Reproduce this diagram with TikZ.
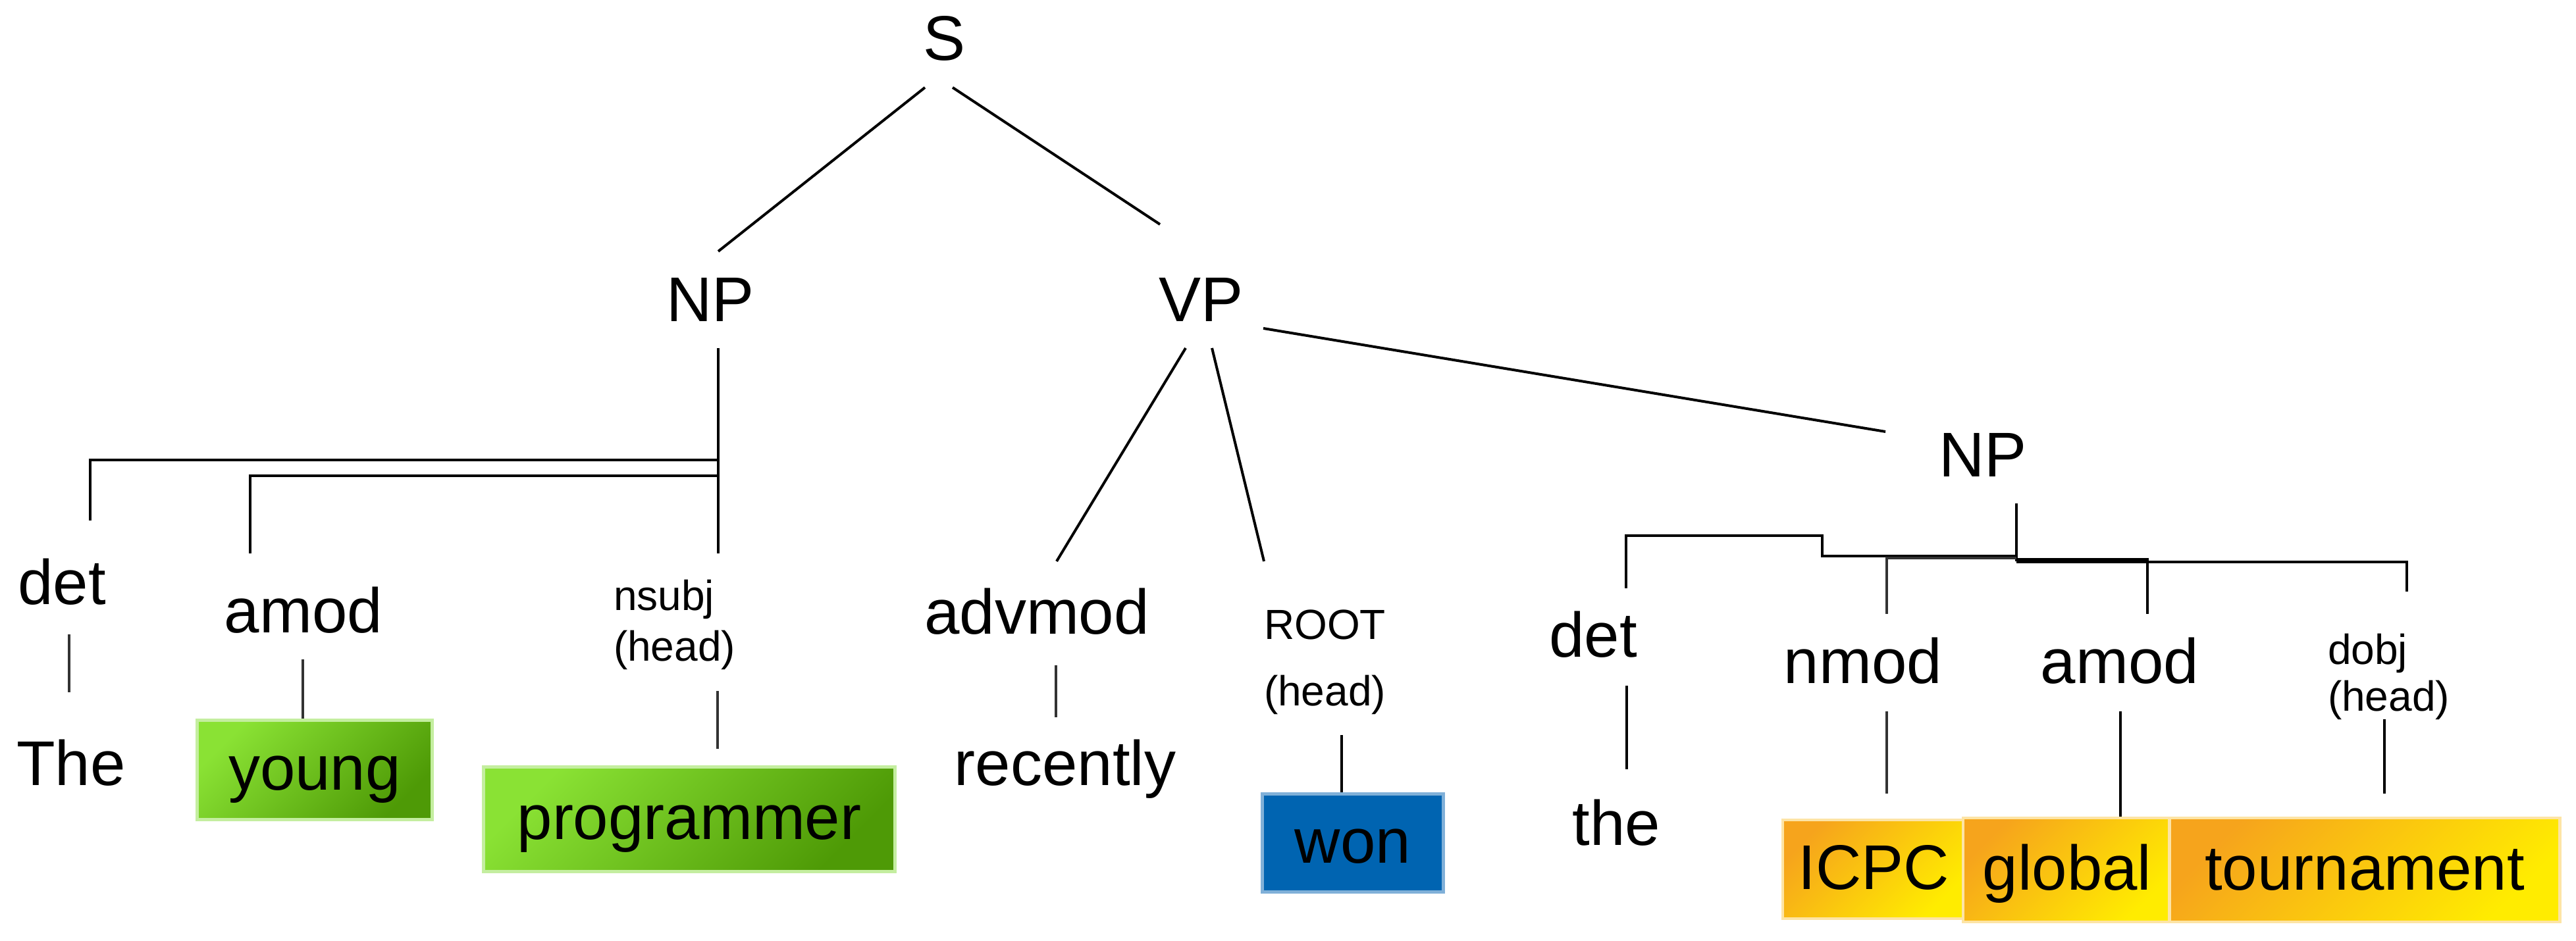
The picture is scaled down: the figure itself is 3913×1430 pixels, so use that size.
\documentclass[tikz,border=0pt]{standalone}
\usepackage{fontspec}
\setmainfont{Liberation Sans}
\usetikzlibrary{calc}
\definecolor{gLight}{RGB}{138,226,52}
\definecolor{gDark}{RGB}{78,154,6}
\definecolor{gEdge}{RGB}{196,238,160}
\definecolor{bFill}{RGB}{0,100,177}
\definecolor{bEdge}{RGB}{128,176,216}
\definecolor{oLight}{RGB}{246,164,28}
\definecolor{oDark}{RGB}{255,236,0}
\definecolor{oEdge}{RGB}{253,228,165}
\begin{document}
\begin{tikzpicture}[x=0.1pt,y=-0.1pt,
  lbl/.style={font=\fontsize{9.6}{11}\selectfont, inner sep=0pt, anchor=base},
  sml/.style={font=\fontsize{6.4}{7.7}\selectfont, inner sep=0pt, anchor=base west},
  conn/.style={line width=0.4pt, black},
  leafl/.style={line width=0.35pt, black!80},
  wbox/.style={font=\fontsize{9.6}{11}\selectfont, inner sep=0pt, text height=7.2pt, text depth=1pt, line width=0.45pt},
  greenbox/.style={wbox, draw=gEdge, top color=gLight, bottom color=gDark, shading angle=45},
  bluebox/.style={wbox, draw=bEdge, fill=bFill},
  orangebox/.style={wbox, draw=oEdge, top color=oLight, bottom color=oDark, shading angle=45}
]
\useasboundingbox (0,0) rectangle (3913,1430);

% phrase labels
\node[lbl] (S) at (1434,92) {S};
\node[lbl] (NPa) at (1079,489) {NP};
\node[lbl] (VP) at (1824,489) {VP};
\node[lbl] (NPb) at (3012,725) {NP};

% dependency labels
\node[lbl] (deta) at (94,919) {det};
\node[lbl] (amoda) at (461,962) {amod};
\node[sml] (nsubj) at (930,928) {\vtop{\baselineskip=7.7pt\hbox{nsubj}\hbox{(head)}}};
\node[lbl] (advmod) at (1575,964) {advmod};
\node[sml] (ROOT) at (1918,972) {\vtop{\baselineskip=10.1pt\hbox{ROOT}\hbox{(head)}}};
\node[lbl] (detb) at (2420,999) {det};
\node[lbl] (nmod) at (2830,1039) {nmod};
\node[lbl] (amodb) at (3220,1039) {amod};
\node[sml] (dobj) at (3534,1010) {\vtop{\baselineskip=7.1pt\hbox{dobj}\hbox{(head)}}};

% words
\node[lbl] (The) at (108,1194) {The};
\node[greenbox, minimum width=35.7pt, minimum height=15.1pt] (young) at (478,1170) {young};
\node[greenbox, minimum width=62.5pt, minimum height=15.9pt] (programmer) at (1047,1245) {programmer};
\node[lbl] (recently) at (1618,1194) {recently};
\node[bluebox, minimum width=27.5pt, minimum height=14.9pt] (won) at (2055,1281) {won};
\node[lbl] (the) at (2455,1285) {the};
\node[orangebox, minimum width=27.6pt, minimum height=15.0pt] (ICPC) at (2846,1321) {ICPC};
\node[orangebox, minimum width=31.6pt, minimum height=15.8pt] (global) at (3140,1322) {global};
\node[orangebox, minimum width=59.3pt, minimum height=15.8pt] (tournament) at (3592,1322) {tournament};

% S
\draw[conn] ([shift={(-29,41)}]S.base) -- ([shift={(12,-107)}]NPa.base);
\draw[conn] ([shift={(13,41)}]S.base) -- ([shift={(-62,-148)}]VP.base);

% first NP
\draw[conn] ([shift={(12,40)}]NPa.base) -- ([shift={(161,-87)}]nsubj.base west);
\draw[conn] ([shift={(12,210)}]NPa.base) -| ([shift={(43,-128)}]deta.base);
\draw[conn] ([shift={(12,234)}]NPa.base) -| ([shift={(-81,-121)}]amoda.base);
\draw[leafl] ([shift={(11,45)}]deta.base) -- ([shift={(-3,-142)}]The.base);
\draw[leafl] ([shift={(-1,40)}]amoda.base) coordinate (ay) -- (ay |- young.north);
\draw[leafl] ([shift={(160,122)}]nsubj.base west) -- ([shift={(43,-25)}]programmer.north);

% VP
\draw[conn] ([shift={(95,10)}]VP.base) -- ([shift={(-148,-69)}]NPb.base);
\draw[conn] ([shift={(-23,40)}]VP.base) -- ([shift={(30,-111)}]advmod.base);
\draw[conn] ([shift={(17,40)}]VP.base) -- ([shift={(2,-119)}]ROOT.base west);
\draw[leafl] ([shift={(29,47)}]advmod.base) -- ([shift={(-14,-104)}]recently.base);
\draw[conn] ([shift={(120,145)}]ROOT.base west) coordinate (rw) -- (rw |- won.north);

% second NP
\draw[conn] ([shift={(51,40)}]NPb.base) -- ([shift={(51,128)}]NPb.base);
\draw[conn] ([shift={(51,120)}]NPb.base) -- ++(-295,0) -- ++(0,-31) -| ([shift={(50,-105)}]detb.base);
\draw[leafl] ([shift={(51,123)}]NPb.base) -| ([shift={(36,-106)}]nmod.base);
\draw[conn] ([shift={(51,125)}]NPb.base) -| ([shift={(42,-106)}]amodb.base);
\draw[conn] ([shift={(51,129)}]NPb.base) -| ([shift={(122,-111)}]dobj.base west);
\draw[conn] ([shift={(51,43)}]detb.base) -- ([shift={(16,-116)}]the.base);
\draw[leafl] ([shift={(36,42)}]nmod.base) -- ([shift={(20,-38)}]ICPC.north);
\draw[conn] ([shift={(1,42)}]amodb.base) coordinate (gw) -- (gw |- global.north);
\draw[conn] ([shift={(88,83)}]dobj.base west) -- ([shift={(30,-35)}]tournament.north);
\end{tikzpicture}
\end{document}
